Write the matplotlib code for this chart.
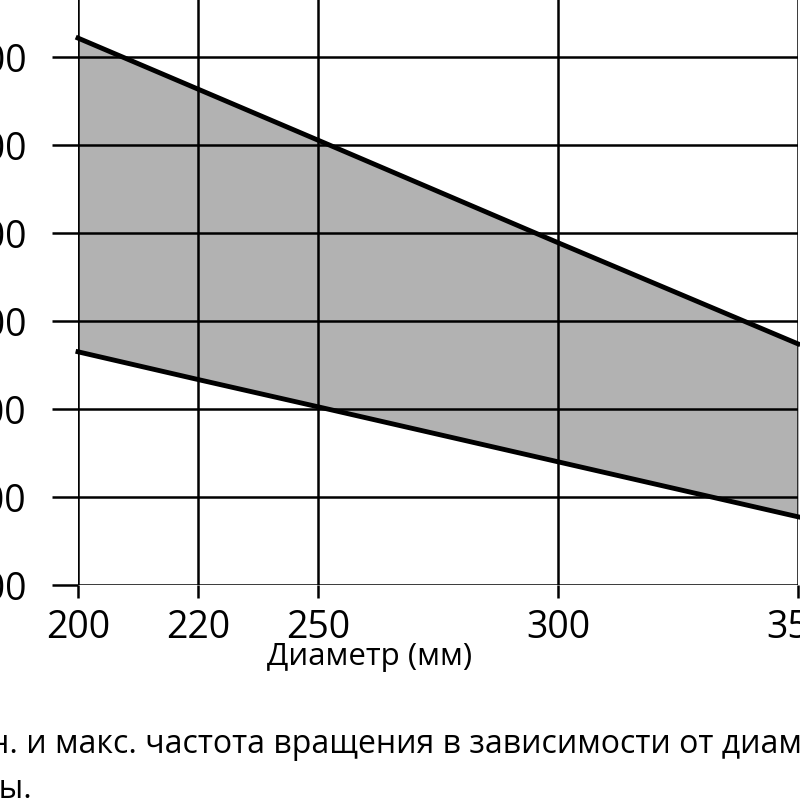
import matplotlib
matplotlib.use("Agg")
import matplotlib.pyplot as plt

diameters = ["200", "220", "250", "300", "350"]
positions = [0, 1, 2, 4, 6]
max_speed = [2643, 2527, 2411, 2178, 1948]
min_speed = [1930, 1867, 1805, 1680, 1555]
y_ticks = [1400, 1600, 1800, 2000, 2200, 2400, 2600]

plt.rcParams['font.family'] = ['Open Sans', 'DejaVu Sans']
fig = plt.figure(figsize=(8, 8), dpi=100)
ax = fig.add_axes([0.0975, 0.26875, 0.9, 0.73125])
ax.fill_between(positions, min_speed, max_speed, color="#b2b2b2", zorder=1)
ax.plot(positions, max_speed, color="black", lw=3.5, zorder=3, clip_on=False)
ax.plot(positions, min_speed, color="black", lw=3.5, zorder=3, clip_on=False)
ax.set_xlim(0, 6)
ax.set_ylim(1400, 1400 + 585 / 88 * 200)
ax.set_xticks(positions)
ax.set_xticklabels(diameters)
ax.set_yticks(y_ticks)
ax.set_yticklabels([str(v) for v in y_ticks])
ax.grid(True, color="black", lw=1.8, zorder=2)
ax.set_axisbelow(False)
for s in ax.spines.values():
    s.set_visible(False)
ax.tick_params(axis="y", length=19, width=1.8, pad=18, labelsize=27)
ax.tick_params(axis="x", length=9, width=1.8, pad=8, labelsize=27)
ax.set_xlabel("Диаметр (мм)", fontsize=22.5, labelpad=10)
ax.xaxis.set_label_coords(0.405, -0.098)
fig.text(-0.075, 0.069, "Мин. и макс. частота вращения в зависимости от диаметра", fontsize=23, va="center")
fig.text(-0.075, 0.0125, "пилы.", fontsize=23, va="center")
fig.savefig("out.png", dpi=100)
